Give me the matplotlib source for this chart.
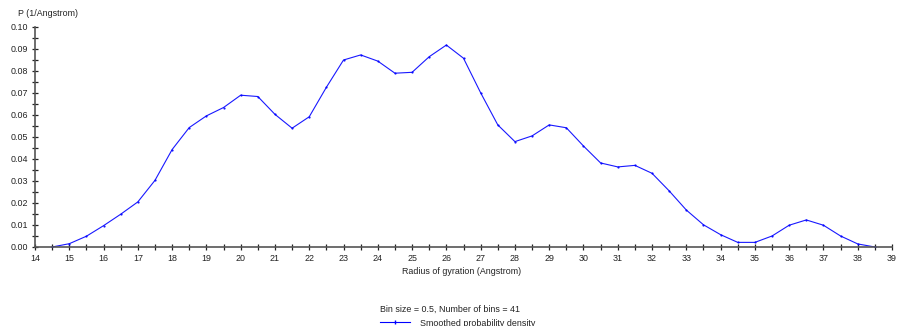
import matplotlib
matplotlib.use("Agg")
import matplotlib.pyplot as plt
from matplotlib.ticker import MultipleLocator, FormatStrFormatter

radius = [14.5, 15.0, 15.5, 16.0, 16.5, 17.0, 17.5, 18.0, 18.5, 19.0, 19.5, 20.0, 20.5,
          21.0, 21.5, 22.0, 22.5, 23.0, 23.5, 24.0, 24.5, 25.0, 25.5, 26.0, 26.5, 27.0,
          27.5, 28.0, 28.5, 29.0, 29.5, 30.0, 30.5, 31.0, 31.5, 32.0, 32.5, 33.0, 33.5,
          34.0, 34.5, 35.0, 35.5, 36.0, 36.5, 37.0, 37.5, 38.0, 38.5]
density = [0.0000, 0.0015, 0.0049, 0.0097, 0.0149, 0.0205, 0.0303, 0.0443, 0.0543, 0.0596,
           0.0634, 0.0690, 0.0684, 0.0603, 0.0540, 0.0592, 0.0726, 0.0850, 0.0873, 0.0845,
           0.0790, 0.0794, 0.0865, 0.0918, 0.0858, 0.0701, 0.0555, 0.0479, 0.0505, 0.0555,
           0.0542, 0.0459, 0.0382, 0.0364, 0.0371, 0.0335, 0.0255, 0.0168, 0.0101, 0.0056,
           0.0021, 0.0021, 0.0050, 0.0099, 0.0123, 0.0099, 0.0050, 0.0014, 0.0000]

y_label = "P (1/Angstrom)"
x_label = "Radius of gyration (Angstrom)"
subtitle = "Bin size = 0.5, Number of bins = 41"
series_name = "Smoothed probability density"

plt.rcParams['font.family'] = ['Liberation Sans', 'DejaVu Sans']
FS = 6.4
fig = plt.figure(figsize=(9.0, 3.26), dpi=100)
W, H = 900, 326
ax = fig.add_axes([35 / W, 1 - 247 / H, (892 - 35) / W, (247 - 27) / H])

ax.plot(radius, density, color='#0000ff', lw=0.8, marker='o', ms=1.6,
        markeredgewidth=0, alpha=0.9)
ax.set_xlim(14, 39)
ax.set_ylim(0, 0.10)
for s in ['top', 'right']:
    ax.spines[s].set_visible(False)
for s in ['left', 'bottom']:
    ax.spines[s].set_color('#555555')
    ax.spines[s].set_linewidth(1.2)
ax.xaxis.set_major_locator(MultipleLocator(1))
ax.xaxis.set_minor_locator(MultipleLocator(0.5))
ax.yaxis.set_major_locator(MultipleLocator(0.01))
ax.yaxis.set_minor_locator(MultipleLocator(0.005))
ax.yaxis.set_major_formatter(FormatStrFormatter('%.2f'))
ax.tick_params(which='both', direction='inout', color='#222222', width=0.9,
               labelsize=FS, labelcolor='#222222', pad=2.5)
ax.tick_params(which='major', length=5)
ax.tick_params(which='minor', length=4)

fig.text(18 / W, 1 - 13 / H, y_label, fontsize=FS, color='#222222', va='center', ha='left')
fig.text(462 / W, 1 - 272 / H, x_label, fontsize=FS, color='#222222',
         va='center', ha='center')
fig.text(450 / W, 1 - 309 / H, subtitle, fontsize=FS, color='#222222', va='center', ha='center')
fig.lines.append(plt.Line2D([380 / W, 410 / W], [1 - 322 / H] * 2, transform=fig.transFigure,
                            color='#0000ff', lw=0.8))
fig.lines.append(plt.Line2D([395 / W], [1 - 322 / H], transform=fig.transFigure,
                            color='#0000ff', marker='|', ms=2.5, lw=0))
fig.text(420 / W, 1 - 323 / H, series_name, fontsize=FS, color='#222222', va='center', ha='left')

fig.savefig('out.png', dpi=100)
